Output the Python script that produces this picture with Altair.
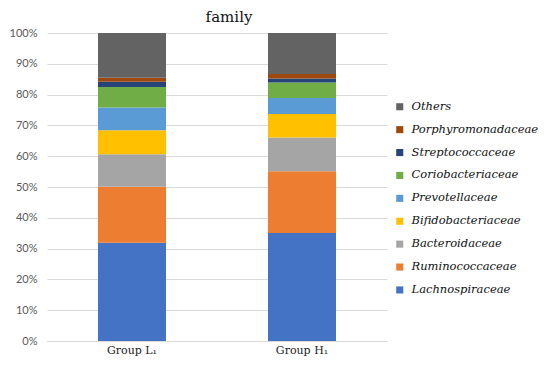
import altair as alt
import pandas as pd

groups = ["Group L\u2081", "Group H\u2081"]
families = ["Lachnospiraceae", "Ruminococcaceae", "Bacteroidaceae", "Bifidobacteriaceae",
            "Prevotellaceae", "Coriobacteriaceae", "Streptococcaceae", "Porphyromonadaceae", "Others"]
colors = ["#4472C4", "#ED7D31", "#A5A5A5", "#FFC000", "#5B9BD5", "#70AD47", "#264478", "#9E480E", "#636363"]
values_L = [31.9, 18.2, 10.5, 7.8, 7.4, 6.7, 1.7, 1.3, 14.5]
values_H = [35.1, 20.0, 11.0, 7.6, 5.2, 5.0, 1.3, 1.5, 13.3]

rows = []
for g, vals in zip(groups, [values_L, values_H]):
    for i, (f, v) in enumerate(zip(families, vals)):
        rows.append({"group": g, "family": f, "value": v / 100.0, "rank": i})
df = pd.DataFrame(rows)

chart = alt.Chart(df).mark_bar().encode(
    x=alt.X("group:N", sort=groups, title=None,
            scale=alt.Scale(paddingInner=0.6, paddingOuter=0.3),
            axis=alt.Axis(labelAngle=0, ticks=False, domain=True, domainColor="#D9D9D9",
                          labelFont="DejaVu Serif", labelFontSize=11, labelColor="#222222",
                          labelPadding=3)),
    y=alt.Y("value:Q", stack="zero", title=None,
            scale=alt.Scale(domain=[0, 1]),
            axis=alt.Axis(format=".0%", values=[i / 10 for i in range(11)], ticks=False, domain=False,
                          gridColor="#D9D9D9", labelFont="Lato", labelFontSize=11,
                          labelColor="#595959", labelPadding=10)),
    color=alt.Color("family:N",
                    scale=alt.Scale(domain=families[::-1], range=colors[::-1]),
                    legend=alt.Legend(title=None, orient="none", legendX=347, legendY=68,
                                      symbolType="square", symbolSize=50, symbolStrokeWidth=0,
                                      labelFont="DejaVu Serif", labelFontStyle="italic",
                                      labelFontSize=11.5, labelColor="#111111", rowPadding=9.9,
                                      labelOffset=6, labelLimit=200)),
    order=alt.Order("rank:Q", sort="ascending"),
).properties(
    width=340, height=308,
    title=alt.Title("family", font="DejaVu Serif", fontSize=15, fontWeight="normal",
                    color="#111111", anchor="middle", dx=12, offset=2),
    autosize=alt.AutoSizeParams(type="none"),
    padding={"left": 39, "top": 25, "right": 155, "bottom": 16},
).configure_view(stroke=None)

chart.save("out.html", embed_options={"renderer": "svg", "actions": False})
